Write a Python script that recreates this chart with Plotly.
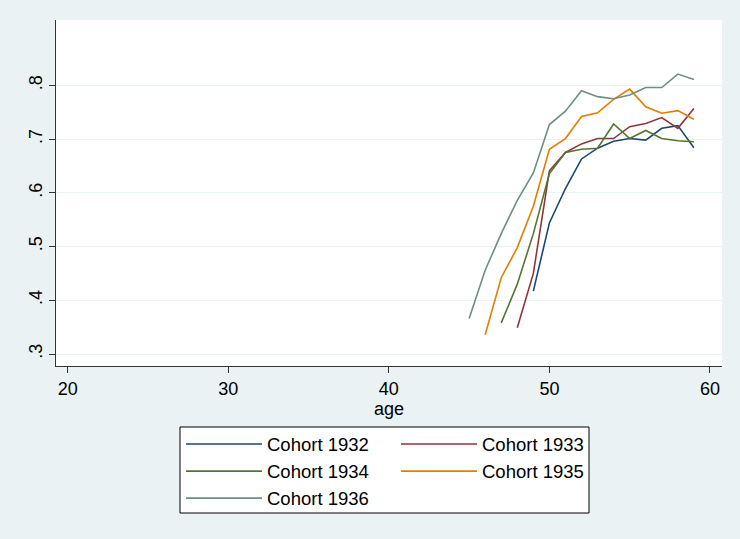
import plotly.graph_objects as go

ages_1932 = [49, 50, 51, 52, 53, 54, 55, 56, 57, 58, 59]
vals_1932 = [0.417, 0.544, 0.608, 0.663, 0.683, 0.696, 0.701, 0.698, 0.720, 0.725, 0.684]
ages_1933 = [48, 49, 50, 51, 52, 53, 54, 55, 56, 57, 58, 59]
vals_1933 = [0.349, 0.450, 0.641, 0.675, 0.691, 0.701, 0.701, 0.723, 0.729, 0.740, 0.720, 0.757]
ages_1934 = [47, 48, 49, 50, 51, 52, 53, 54, 55, 56, 57, 58, 59]
vals_1934 = [0.358, 0.430, 0.524, 0.636, 0.675, 0.681, 0.683, 0.728, 0.701, 0.716, 0.701, 0.697, 0.695]
ages_1935 = [46, 47, 48, 49, 50, 51, 52, 53, 54, 55, 56, 57, 58, 59]
vals_1935 = [0.336, 0.442, 0.498, 0.575, 0.681, 0.701, 0.742, 0.749, 0.774, 0.793, 0.760, 0.748, 0.753, 0.737]
ages_1936 = [45, 46, 47, 48, 49, 50, 51, 52, 53, 54, 55, 56, 57, 58, 59]
vals_1936 = [0.366, 0.456, 0.524, 0.586, 0.637, 0.727, 0.752, 0.790, 0.779, 0.775, 0.782, 0.796, 0.796, 0.821, 0.811]

x_ticks = [20, 30, 40, 50, 60]
y_ticks = [0.3, 0.4, 0.5, 0.6, 0.7, 0.8]
y_tick_labels = [".3", ".4", ".5", ".6", ".7", ".8"]

series = [
    ("Cohort 1932", ages_1932, vals_1932, "#1a476f", "legend"),
    ("Cohort 1933", ages_1933, vals_1933, "#90353b", "legend2"),
    ("Cohort 1934", ages_1934, vals_1934, "#55752f", "legend"),
    ("Cohort 1935", ages_1935, vals_1935, "#e37e00", "legend2"),
    ("Cohort 1936", ages_1936, vals_1936, "#6e8e84", "legend"),
]

fig = go.Figure()
for name, xs, ys, color, leg in series:
    fig.add_trace(go.Scatter(x=xs, y=ys, mode="lines", name=name,
                             line=dict(color=color, width=1.6), legend=leg))

bg = "#eaf2f3"
font = dict(family="Liberation Sans, Arial, sans-serif", size=18, color="#000000")

W_PLOT = 666.0
H_PLOT = 346.0

fig.update_layout(
    width=740, height=539,
    margin=dict(l=56, r=18, t=20, b=173),
    paper_bgcolor=bg, plot_bgcolor="white",
    font=font,
    showlegend=True,
    legend=dict(x=(181 - 56) / W_PLOT, y=(366 - 425.5) / H_PLOT, xanchor="left", yanchor="top",
                bgcolor="rgba(0,0,0,0)", font=dict(size=18.5), tracegroupgap=0, itemwidth=76),
    legend2=dict(x=(396 - 56) / W_PLOT, y=(366 - 425.5) / H_PLOT, xanchor="left", yanchor="top",
                 bgcolor="rgba(0,0,0,0)", font=dict(size=18.5), tracegroupgap=0, itemwidth=76),
    shapes=[dict(type="rect", xref="paper", yref="paper",
                 x0=(180 - 56) / W_PLOT, x1=(589 - 56) / W_PLOT,
                 y0=(366 - 513) / H_PLOT, y1=(366 - 427) / H_PLOT,
                 line=dict(color="black", width=1), fillcolor="white", layer="below")],
)

fig.update_xaxes(range=[19.27, 60.75], tickvals=x_ticks, ticks="outside", ticklen=6,
                 tickcolor="#333333", showline=True, linecolor="#333333", linewidth=1,
                 showgrid=False, zeroline=False, tickfont=dict(size=18),
                 title=dict(text="age", font=dict(size=18), standoff=2))
fig.update_yaxes(range=[0.2777, 0.9216], tickvals=y_ticks, ticktext=y_tick_labels,
                 tickangle=-90, ticks="outside", ticklen=6, tickcolor="#333333",
                 showline=True, linecolor="#333333", linewidth=1,
                 showgrid=True, gridcolor=bg, gridwidth=1, zeroline=False,
                 tickfont=dict(size=18))

fig.write_html("out.html", config={"displayModeBar": False},
               post_script="document.body.style.margin='0';")
